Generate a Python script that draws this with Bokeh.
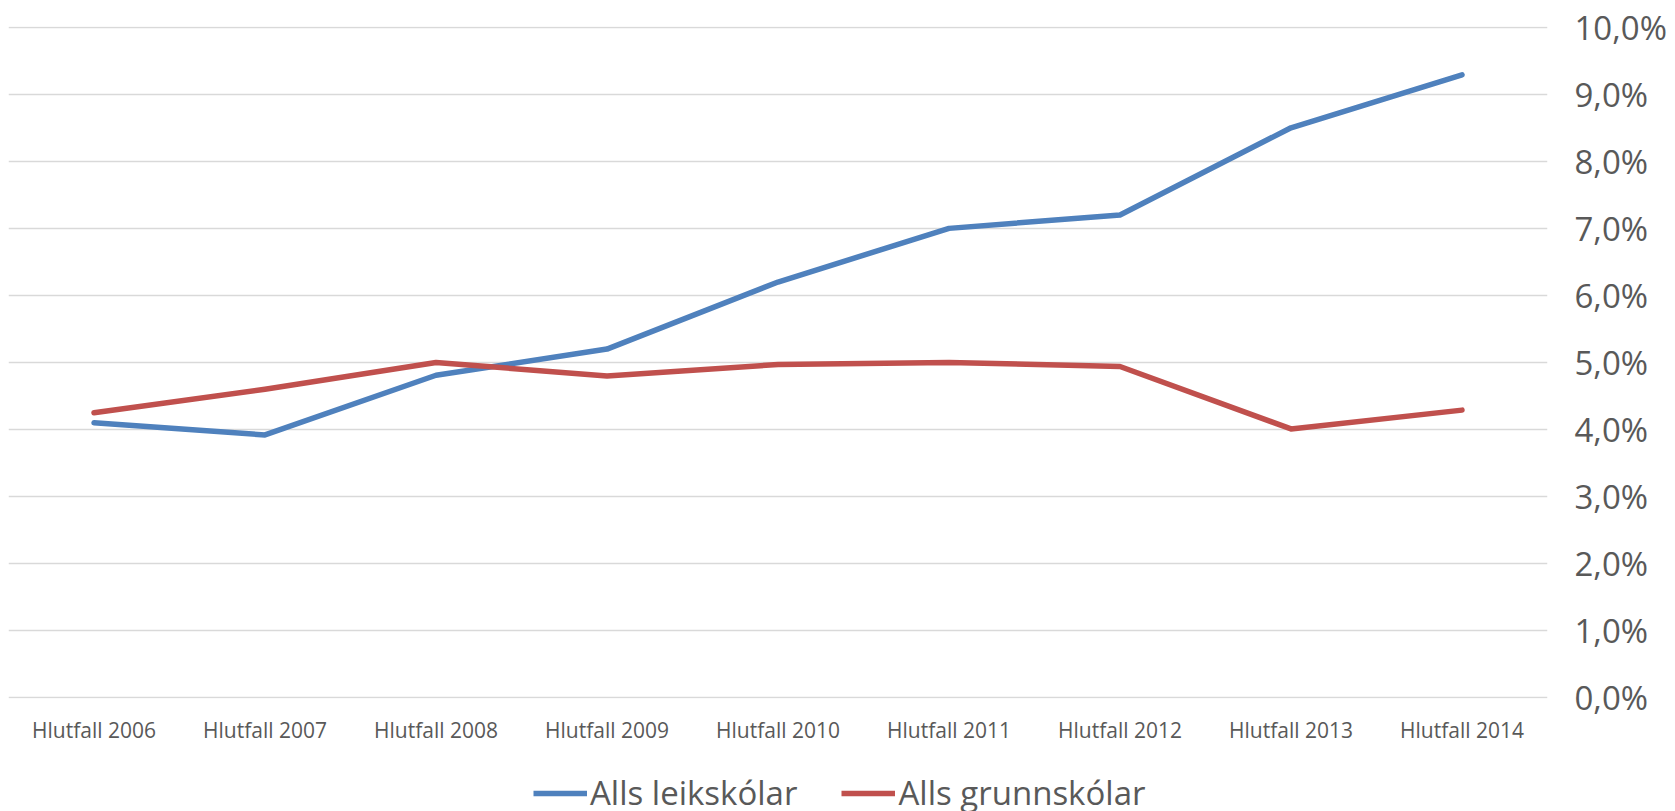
from bokeh.plotting import figure
from bokeh.models import FactorRange, Range1d, FixedTicker, Legend, LegendItem
from bokeh.layouts import column
from bokeh.embed import file_html
from bokeh.resources import INLINE

categories = ["Hlutfall 2006", "Hlutfall 2007", "Hlutfall 2008", "Hlutfall 2009", "Hlutfall 2010",
              "Hlutfall 2011", "Hlutfall 2012", "Hlutfall 2013", "Hlutfall 2014"]
leikskolar = [4.10, 3.92, 4.81, 5.20, 6.20, 7.00, 7.20, 8.50, 9.29]
grunnskolar = [4.25, 4.60, 5.00, 4.80, 4.97, 5.00, 4.94, 4.01, 4.29]
y_ticks = [0, 1, 2, 3, 4, 5, 6, 7, 8, 9, 10]
y_labels = ["0,0%", "1,0%", "2,0%", "3,0%", "4,0%", "5,0%", "6,0%", "7,0%", "8,0%", "9,0%", "10,0%"]
series_names = ["Alls leikskólar", "Alls grunnskólar"]
series_colors = ["#4F81BD", "#C0504D"]

FONT = "Open Sans"
TXT = "#595959"
W = 1669

p = figure(width=W, height=746, x_range=FactorRange(*categories, range_padding=0),
           y_range=Range1d(-0.01, 10.01), y_axis_location="right",
           output_backend="svg", toolbar_location=None,
           min_border_left=8, min_border_top=26, min_border_bottom=45, min_border_right=0)
p.outline_line_color = None
p.background_fill_color = "white"
p.border_fill_color = "white"

p.xgrid.grid_line_color = None
p.ygrid.grid_line_color = "#D9D9D9"
p.ygrid.grid_line_width = 1.5

p.yaxis.ticker = FixedTicker(ticks=y_ticks)
p.yaxis.major_label_overrides = {t: l for t, l in zip(y_ticks, y_labels)}
p.yaxis.axis_line_color = None
p.yaxis.major_tick_line_color = None
p.yaxis.minor_tick_line_color = None
p.yaxis.major_tick_out = 0
p.yaxis.minor_tick_out = 0
p.yaxis.major_label_text_font = FONT
p.yaxis.major_label_text_font_size = "33px"
p.yaxis.major_label_text_color = TXT
p.yaxis.major_label_standoff = 27

p.xaxis.axis_line_color = None
p.xaxis.major_tick_line_color = None
p.xaxis.minor_tick_line_color = None
p.xaxis.major_tick_out = 0
p.xaxis.minor_tick_out = 0
p.xaxis.major_label_text_font = FONT
p.xaxis.major_label_text_font_size = "21px"
p.xaxis.major_label_text_color = TXT
p.xaxis.major_label_standoff = 17

p.line(categories, leikskolar, line_color=series_colors[0], line_width=5.5, line_cap="round", line_join="round")
p.line(categories, grunnskolar, line_color=series_colors[1], line_width=5.5, line_cap="round", line_join="round")

# legend strip below the chart (its lines are kept out of view; only the legend shows)
p2 = figure(width=W, height=65, x_axis_location=None, y_axis_location=None,
            x_range=FactorRange(*categories), y_range=Range1d(-100, -99),
            output_backend="svg", toolbar_location=None,
            min_border_left=0, min_border_top=0, min_border_bottom=0, min_border_right=0)
p2.outline_line_color = None
p2.grid.grid_line_color = None
l1 = p2.line(categories, leikskolar, line_color=series_colors[0], line_width=5.5)
l2 = p2.line(categories, grunnskolar, line_color=series_colors[1], line_width=5.5)
legend = Legend(items=[LegendItem(label=series_names[0], renderers=[l1]),
                       LegendItem(label=series_names[1], renderers=[l2])],
                orientation="horizontal", location=(525, -4),
                padding=0, margin=0, spacing=44, glyph_width=54, label_standoff=3,
                border_line_color=None, background_fill_alpha=0,
                label_text_font=FONT, label_text_font_size="33px", label_text_color=TXT)
p2.add_layout(legend, "center")

layout = column(p, p2, spacing=0)
open("out.html", "w").write(file_html(layout, INLINE))
